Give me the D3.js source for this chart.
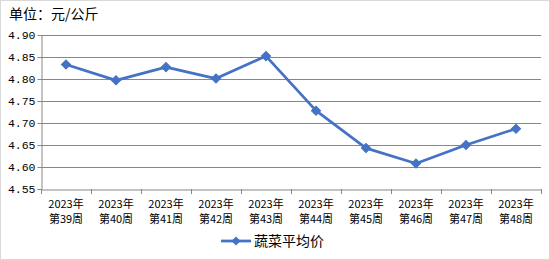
<!DOCTYPE html>
<html><head><meta charset="utf-8">
<script src="https://cdn.jsdelivr.net/npm/d3@7"></script>
<style>body{margin:0;background:#fff}svg{display:block}</style>
</head><body>
<svg id="c" width="550" height="260"></svg>
<script>
const categories = ["2023年\n第39周","2023年\n第40周","2023年\n第41周","2023年\n第42周","2023年\n第43周","2023年\n第44周","2023年\n第45周","2023年\n第46周","2023年\n第47周","2023年\n第48周"];
const values = [4.833,4.797,4.827,4.801,4.852,4.728,4.643,4.608,4.650,4.687];
const yTicks = [4.55,4.60,4.65,4.70,4.75,4.80,4.85,4.90];
const seriesName = "蔬菜平均价";
const unitTitle = "单位：元/公斤";

const svg = d3.select("#c");
const font = "'Noto Sans CJK SC', sans-serif";
const m = {l:41, r:9, t:35, b:71};
const W = 550, H = 260;
svg.append("rect").attr("x",0.5).attr("y",0.5).attr("width",W-1).attr("height",H-1)
  .attr("fill","#fff").attr("stroke","#d9d9d9");

const x = d3.scaleBand().domain(categories).range([m.l, W-m.r]);
const y = d3.scaleLinear().domain([4.55,4.90]).range([H-m.b, m.t]);

// grid
svg.append("g").selectAll("line").data(yTicks.slice(1)).join("line")
  .attr("x1",m.l).attr("x2",W-m.r)
  .attr("y1",d=>Math.round(y(d))+0.5).attr("y2",d=>Math.round(y(d))+0.5)
  .attr("stroke","#878787").attr("stroke-width",1);

// y axis
const ya = svg.append("g").attr("transform",`translate(${m.l+0.5},0)`)
  .call(d3.axisLeft(y).tickValues(yTicks).tickFormat(d3.format(".2f")).tickSize(4).tickSizeOuter(0));
ya.select(".domain").attr("stroke","#878787");
ya.selectAll(".tick line").attr("stroke","#878787");
ya.selectAll(".tick text").attr("font-family","'Liberation Mono', 'DejaVu Sans Mono', monospace")
  .attr("font-size",11.5).attr("fill","#000").attr("x",-6);

// x axis
const xa = svg.append("g").attr("transform",`translate(0,${Math.round(y(4.55))+0.5})`)
  .call(d3.axisBottom(x).tickSize(0).tickFormat(""));
xa.select(".domain").attr("stroke","#878787");
svg.append("g").selectAll("line").data(d3.range(categories.length+1)).join("line")
  .attr("x1",i=>Math.round(m.l + i*x.step())+0.5).attr("x2",i=>Math.round(m.l + i*x.step())+0.5)
  .attr("y1",Math.round(y(4.55))).attr("y2",Math.round(y(4.55))+5)
  .attr("stroke","#878787");
const lbl = svg.append("g").selectAll("text").data(categories).join("text")
  .attr("x",d=>x(d)+x.bandwidth()/2).attr("text-anchor","middle")
  .attr("font-family",font).attr("font-size",11).attr("fill","#000");
lbl.each(function(d){
  const t = d3.select(this);
  d.split("\n").forEach((s,i)=>t.append("tspan").attr("x",x(d)+x.bandwidth()/2).attr("y",208+i*15).text(s));
});

// line
const cx = d=>x(d)+x.bandwidth()/2;
const data = categories.map((c,i)=>({c, v:values[i]}));
svg.append("path").datum(data)
  .attr("d",d3.line().x(d=>cx(d.c)).y(d=>y(d.v)))
  .attr("fill","none").attr("stroke","#4472C4").attr("stroke-width",2.75).attr("stroke-linejoin","round");
svg.append("g").selectAll("path").data(data).join("path")
  .attr("transform",d=>`translate(${cx(d.c)},${y(d.v)}) rotate(45)`)
  .attr("d",d3.symbol().type(d3.symbolSquare).size(42))
  .attr("fill","#4472C4").attr("stroke","#4472C4").attr("stroke-width",1);

// title
svg.append("text").attr("x",9).attr("y",19).attr("font-family",font).attr("font-size",14)
  .attr("fill","#000").text(unitTitle);

// legend
const ly = 241;
svg.append("line").attr("x1",221).attr("x2",251).attr("y1",ly).attr("y2",ly)
  .attr("stroke","#4472C4").attr("stroke-width",2.75);
svg.append("path").attr("transform",`translate(236,${ly}) rotate(45)`)
  .attr("d",d3.symbol().type(d3.symbolSquare).size(42)).attr("fill","#4472C4");
svg.append("text").attr("x",254).attr("y",ly+5).attr("font-family",font).attr("font-size",14)
  .attr("fill","#000").text(seriesName);
</script>
</body></html>
